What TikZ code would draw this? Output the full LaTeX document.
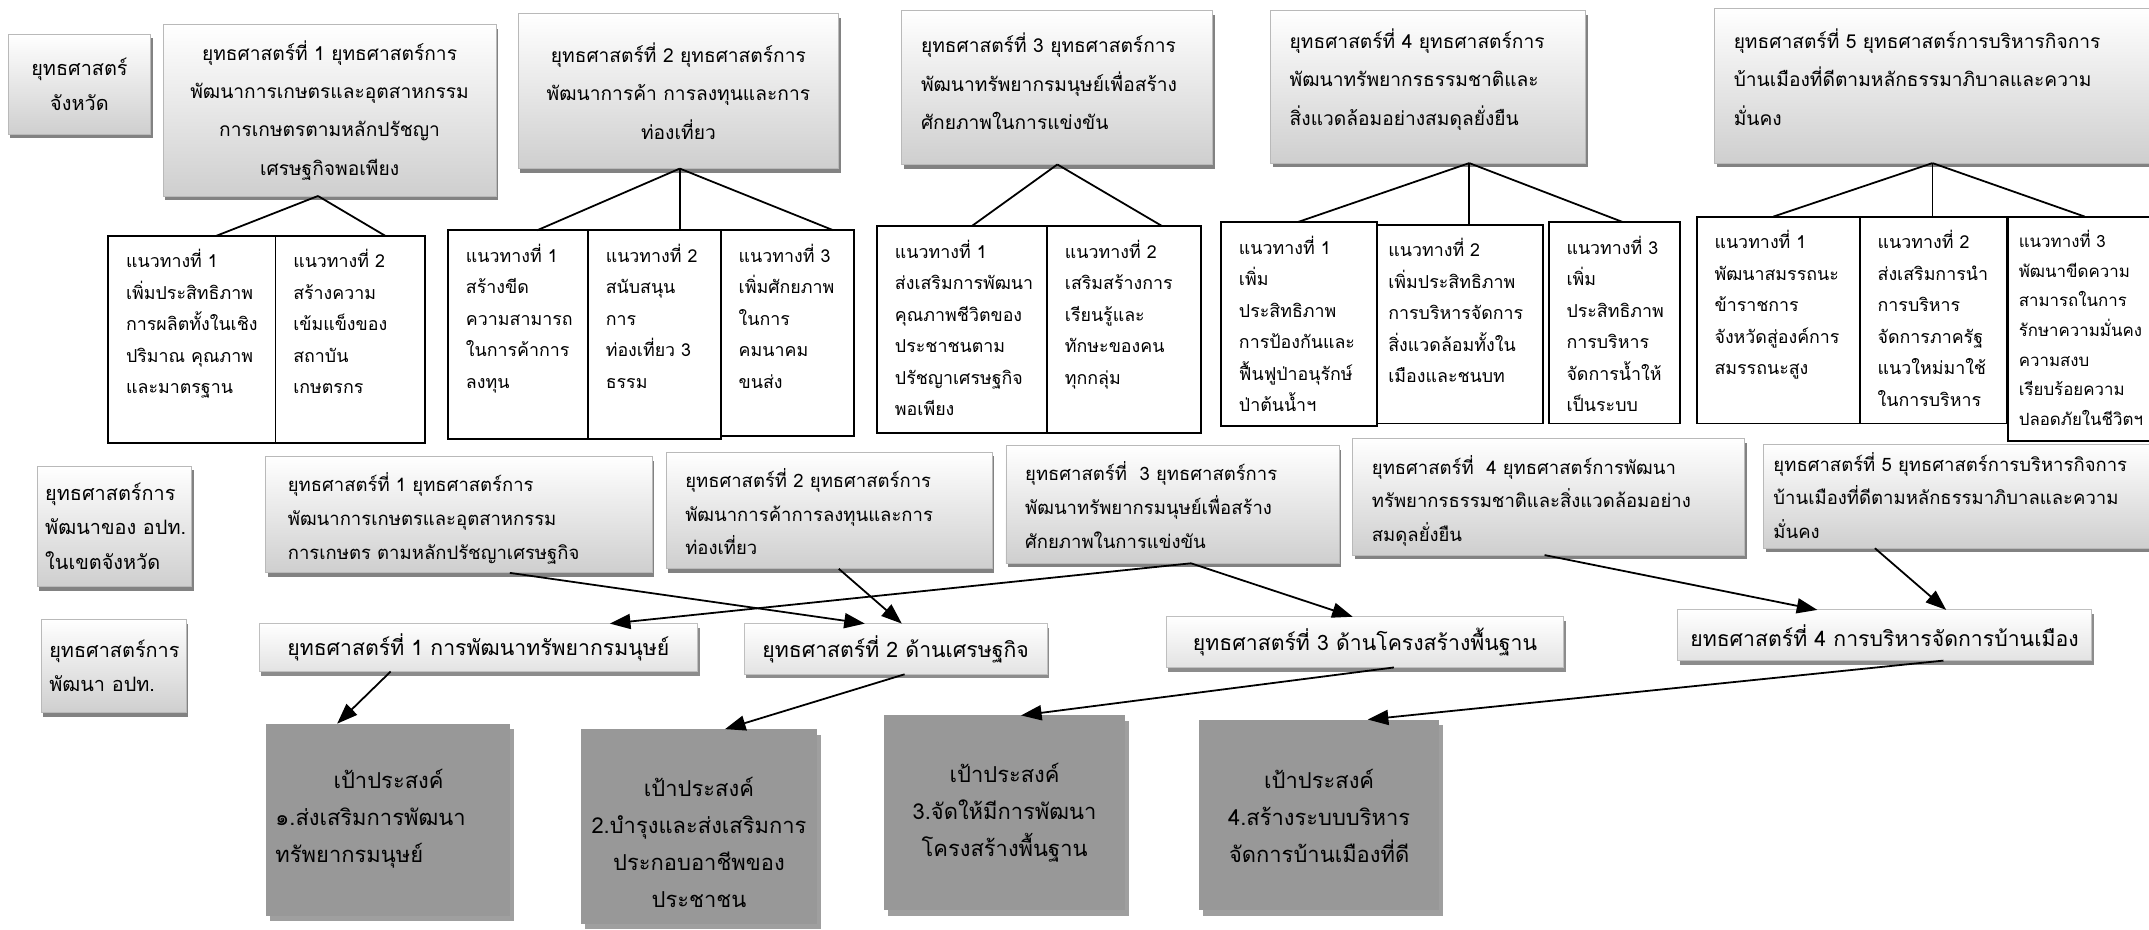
\documentclass[tikz,border=0pt]{standalone}
\usepackage{fontspec}
\setmainfont[Script=Thai]{Loma}
\usetikzlibrary{arrows.meta,shadows}
\newcommand\mkbox[6]{\pgfmathsetmacro\mkbw{#5-#3}\pgfmathsetmacro\mkbh{#6-#4}%
  \node[#2,anchor=north west,inner sep=0pt,outer sep=0pt,minimum width=\mkbw pt,minimum height=\mkbh pt] (#1) at (#3,#4) {};}
\definecolor{goalgray}{RGB}{152,152,152}
\begin{document}
\begin{tikzpicture}[x=1pt,y=-1pt,
  every node/.style={inner sep=0pt,outer sep=0pt},
  topbox/.style={draw=gray!55,line width=0.7pt,top color=white,bottom color=gray!38,drop shadow={shadow xshift=1.5pt,shadow yshift=-3pt,fill=black!65,opacity=0.75}},
  subbox/.style={draw=black,line width=1.4pt,fill=white},
  midbox/.style={draw=gray!50,line width=0.7pt,top color=white,bottom color=gray!22,drop shadow={shadow xshift=1.5pt,shadow yshift=-3pt,fill=black!60,opacity=0.75}},
  goalbox/.style={fill=goalgray,drop shadow={shadow xshift=3pt,shadow yshift=-4pt,fill=black!75}},
  fanline/.style={line width=1.3pt},
  arrowline/.style={line width=1.3pt,-{Triangle[length=15pt,width=11pt]}},
  ftop/.style={font=\fontsize{14}{28}\selectfont},
  fsub/.style={font=\fontsize{13}{23}\selectfont},
  fsubs/.style={font=\fontsize{12.3}{21.6}\selectfont},
  fmid/.style={font=\fontsize{13.5}{24.5}\selectfont},
  fr4/.style={font=\fontsize{15.5}{20}\selectfont},
  fgoal/.style={font=\fontsize{16}{27}\selectfont},
  flab/.style={font=\fontsize{14.5}{25}\selectfont},
]
\useasboundingbox (0,0) rectangle (1568,678);
\fill[white] (0,0) rectangle (1568,678);

% ---------- row 3 (drawn first, lies under row 2) ----------
\mkbox{l2}{topbox}{27}{340}{140}{428}
\mkbox{r3a}{topbox}{194}{333}{476}{418}
\mkbox{r3b}{topbox}{486}{330}{724}{415}
\mkbox{r3c}{topbox}{734}{325}{977}{411}
\mkbox{r3d}{topbox}{987}{320}{1273}{405}
\mkbox{r3e}{topbox}{1287}{324}{1575}{400}

% ---------- row 1 ----------
\mkbox{l1}{topbox}{6}{25}{110}{98}
\mkbox{s1}{topbox}{119}{18}{362}{143}
\mkbox{s2}{topbox}{378}{10}{612}{123}
\mkbox{s3}{topbox}{658}{8}{885}{120}
\mkbox{s4}{topbox}{927}{8}{1157}{119}
\mkbox{s5}{topbox}{1251}{6}{1575}{119}

\node[flab,align=center] (l1t) at (l1) {ยุทธศาสตร์\\จังหวัด};
\node[ftop,align=center] (s1t) at (s1) {ยุทธศาสตร์ที่ 1 ยุทธศาสตร์การ\\พัฒนาการเกษตรและอุตสาหกรรม\\การเกษตรตามหลักปรัชญา\\เศรษฐกิจพอเพียง};
\node[ftop,align=center] (s2t) at (s2) {ยุทธศาสตร์ที่ 2 ยุทธศาสตร์การ\\พัฒนาการค้า การลงทุนและการ\\ท่องเที่ยว};
\node[ftop,align=left,anchor=north west] (s3t) at ([xshift=14pt,yshift=-16pt]s3.north west) {ยุทธศาสตร์ที่ 3 ยุทธศาสตร์การ\\พัฒนาทรัพยากรมนุษย์เพื่อสร้าง\\ศักยภาพในการแข่งขัน};
\node[ftop,align=left,anchor=north west] (s4t) at ([xshift=14pt,yshift=-13pt]s4.north west) {ยุทธศาสตร์ที่ 4 ยุทธศาสตร์การ\\พัฒนาทรัพยากรธรรมชาติและ\\สิ่งแวดล้อมอย่างสมดุลยั่งยืน};
\node[ftop,align=left,anchor=north west] (s5t) at ([xshift=14pt,yshift=-15pt]s5.north west) {ยุทธศาสตร์ที่ 5 ยุทธศาสตร์การบริหารกิจการ\\บ้านเมืองที่ดีตามหลักธรรมาภิบาลและความ\\มั่นคง};

% ---------- row 2 ----------
\mkbox{s1a}{subbox}{79}{172}{201}{323}
\mkbox{s1b}{subbox}{201}{172}{310}{323}
\mkbox{s2a}{subbox}{327}{168}{429}{320}
\mkbox{s2b}{subbox}{429}{168}{526}{320}
\mkbox{s2c}{subbox}{526}{168}{623}{318}
\mkbox{s3a}{subbox}{640}{165}{764}{316}
\mkbox{s3b}{subbox}{764}{165}{876}{316}
\mkbox{s4a}{subbox}{891}{162}{1005}{311}
\mkbox{s4b}{subbox}{1005}{164}{1126}{309}
\mkbox{s4c}{subbox}{1130}{162}{1226}{309}
\mkbox{s5a}{subbox}{1238}{158}{1357}{309}
\mkbox{s5b}{subbox}{1357}{158}{1464}{309}
\mkbox{s5c}{subbox}{1465}{158}{1590}{322}

\node[fsub,align=left,anchor=north west] (s1at) at ([xshift=13pt,yshift=-10pt]s1a.north west) {แนวทางที่ 1\\เพิ่มประสิทธิภาพ\\การผลิตทั้งในเชิง\\ปริมาณ คุณภาพ\\และมาตรฐาน};
\node[fsub,align=left,anchor=north west] (s1bt) at ([xshift=13pt,yshift=-10pt]s1b.north west) {แนวทางที่ 2\\สร้างความ\\เข้มแข็งของ\\สถาบัน\\เกษตรกร};
\node[fsub,align=left,anchor=north west] (s2at) at ([xshift=13pt,yshift=-10pt]s2a.north west) {แนวทางที่ 1\\สร้างขีด\\ความสามารถ\\ในการค้าการ\\ลงทุน};
\node[fsub,align=left,anchor=north west] (s2bt) at ([xshift=13pt,yshift=-10pt]s2b.north west) {แนวทางที่ 2\\สนับสนุน\\การ\\ท่องเที่ยว 3\\ธรรม};
\node[fsub,align=left,anchor=north west] (s2ct) at ([xshift=13pt,yshift=-10pt]s2c.north west) {แนวทางที่ 3\\เพิ่มศักยภาพ\\ในการ\\คมนาคม\\ขนส่ง};
\node[fsub,align=left,anchor=north west] (s3at) at ([xshift=13pt,yshift=-10pt]s3a.north west) {แนวทางที่ 1\\ส่งเสริมการพัฒนา\\คุณภาพชีวิตของ\\ประชาชนตาม\\ปรัชญาเศรษฐกิจ\\พอเพียง};
\node[fsub,align=left,anchor=north west] (s3bt) at ([xshift=13pt,yshift=-10pt]s3b.north west) {แนวทางที่ 2\\เสริมสร้างการ\\เรียนรู้และ\\ทักษะของคน\\ทุกกลุ่ม};
\node[fsub,align=left,anchor=north west] (s4at) at ([xshift=13pt,yshift=-10pt]s4a.north west) {แนวทางที่ 1\\เพิ่ม\\ประสิทธิภาพ\\การป้องกันและ\\ฟื้นฟูป่าอนุรักษ์\\ป่าต้นน้ำฯ};
\node[fsub,align=left,anchor=north west] (s4bt) at ([xshift=8pt,yshift=-10pt]s4b.north west) {แนวทางที่ 2\\เพิ่มประสิทธิภาพ\\การบริหารจัดการ\\สิ่งแวดล้อมทั้งใน\\เมืองและชนบท};
\node[fsub,align=left,anchor=north west] (s4ct) at ([xshift=13pt,yshift=-10pt]s4c.north west) {แนวทางที่ 3\\เพิ่ม\\ประสิทธิภาพ\\การบริหาร\\จัดการน้ำให้\\เป็นระบบ};
\node[fsub,align=left,anchor=north west] (s5at) at ([xshift=13pt,yshift=-10pt]s5a.north west) {แนวทางที่ 1\\พัฒนาสมรรถนะ\\ข้าราชการ\\จังหวัดสู่องค์การ\\สมรรถนะสูง};
\node[fsub,align=left,anchor=north west] (s5bt) at ([xshift=13pt,yshift=-10pt]s5b.north west) {แนวทางที่ 2\\ส่งเสริมการนำ\\การบริหาร\\จัดการภาครัฐ\\แนวใหม่มาใช้\\ในการบริหาร};
\node[fsubs,align=left,anchor=north west] (s5ct) at ([xshift=8pt,yshift=-10pt]s5c.north west) {แนวทางที่ 3\\พัฒนาขีดความ\\สามารถในการ\\รักษาความมั่นคง\\ความสงบ\\เรียบร้อยความ\\ปลอดภัยในชีวิตฯ};

% fans
\draw[fanline] ([xshift=-8.5pt]s1.south) -- ([xshift=18pt]s1a.north);
\draw[fanline] ([xshift=-8.5pt]s1.south) -- ([xshift=25.5pt]s1b.north);
\draw[fanline] ([xshift=1pt]s2.south) -- ([xshift=14pt]s2a.north);
\draw[fanline] ([xshift=1pt]s2.south) -- ([xshift=18.5pt]s2b.north);
\draw[fanline] ([xshift=1pt]s2.south) -- ([xshift=33.5pt]s2c.north);
\draw[fanline] (s3.south) -- ([xshift=7pt]s3a.north);
\draw[fanline] (s3.south) -- ([xshift=28pt]s3b.north);
\draw[fanline] ([xshift=30pt]s4.south) -- ([xshift=-1pt]s4a.north);
\draw[fanline] ([xshift=30pt]s4.south) -- ([xshift=6.5pt]s4b.north);
\draw[fanline] ([xshift=30pt]s4.south) -- ([xshift=6pt]s4c.north);
\draw[fanline] ([xshift=-3pt]s5.south) -- ([xshift=-3.5pt]s5a.north);
\draw[fanline] ([xshift=-3pt]s5.south) -- ([xshift=-0.5pt]s5b.north);
\draw[fanline] ([xshift=-3pt]s5.south) -- ([xshift=-6.5pt]s5c.north);

% ---------- row 3 texts ----------
\node[flab,align=left,anchor=west] (l2t) at ([xshift=6pt]l2.west) {ยุทธศาสตร์การ\\พัฒนาของ อปท.\\ในเขตจังหวัด};
\node[fmid,align=left,anchor=north west] (r3at) at ([xshift=16pt,yshift=-12pt]r3a.north west) {ยุทธศาสตร์ที่ 1 ยุทธศาสตร์การ\\พัฒนาการเกษตรและอุตสาหกรรม\\การเกษตร ตามหลักปรัชญาเศรษฐกิจ};
\node[fmid,align=left,anchor=north west] (r3bt) at ([xshift=14pt,yshift=-12pt]r3b.north west) {ยุทธศาสตร์ที่ 2 ยุทธศาสตร์การ\\พัฒนาการค้าการลงทุนและการ\\ท่องเที่ยว};
\node[fmid,align=left,anchor=north west] (r3ct) at ([xshift=14pt,yshift=-12pt]r3c.north west) {ยุทธศาสตร์ที่\ \ 3 ยุทธศาสตร์การ\\พัฒนาทรัพยากรมนุษย์เพื่อสร้าง\\ศักยภาพในการแข่งขัน};
\node[fmid,align=left,anchor=north west] (r3dt) at ([xshift=14pt,yshift=-12pt]r3d.north west) {ยุทธศาสตร์ที่\ \ 4 ยุทธศาสตร์การพัฒนา\\ทรัพยากรธรรมชาติและสิ่งแวดล้อมอย่าง\\สมดุลยั่งยืน};
\node[fmid,align=left,anchor=north west] (r3et) at ([xshift=7pt,yshift=-6pt]r3e.north west) {ยุทธศาสตร์ที่ 5 ยุทธศาสตร์การบริหารกิจการ\\บ้านเมืองที่ดีตามหลักธรรมาภิบาลและความ\\มั่นคง};

% ---------- row 4 ----------
\mkbox{l3}{topbox}{30}{452}{136}{520}
\mkbox{r4a}{midbox}{189}{455}{509}{490}
\mkbox{r4b}{midbox}{543}{455}{764}{492}
\mkbox{r4c}{midbox}{851}{450}{1141}{487}
\mkbox{r4d}{midbox}{1224}{445}{1526}{482}

\node[flab,align=left,anchor=west] (l3t) at ([xshift=6pt]l3.west) {ยุทธศาสตร์การ\\พัฒนา อปท.};
\node[fr4] (r4at) at (r4a) {ยุทธศาสตร์ที่ 1 การพัฒนาทรัพยากรมนุษย์};
\node[fr4] (r4bt) at (r4b) {ยุทธศาสตร์ที่ 2 ด้านเศรษฐกิจ};
\node[fr4] (r4ct) at (r4c) {ยุทธศาสตร์ที่ 3 ด้านโครงสร้างพื้นฐาน};
\node[fr4] (r4dt) at (r4d) {ยทธศาสตร์ที่ 4 การบริหารจัดการบ้านเมือง};

% arrows row 3 -> row 4
\draw[arrowline] ([xshift=37pt]r3a.south) -- ([xshift=-22.5pt]r4b.north);
\draw[arrowline] ([xshift=7pt]r3b.south) -- ([xshift=4.5pt]r4b.north);
\draw[arrowline] ([xshift=13.5pt]r3c.south) -- ([xshift=96pt]r4a.north);
\draw[arrowline] ([xshift=13.5pt]r3c.south) -- ([xshift=-9pt]r4c.north);
\draw[arrowline] ([xshift=-3pt]r3d.south) -- ([xshift=-49pt]r4d.north);
\draw[arrowline] ([xshift=-63pt]r3e.south) -- ([xshift=45pt]r4d.north);

% ---------- row 5 ----------
\mkbox{g1}{goalbox}{194}{528}{372}{668}
\mkbox{g2}{goalbox}{424}{532}{596}{674}
\mkbox{g3}{goalbox}{645}{522}{821}{664}
\mkbox{g4}{goalbox}{875}{525}{1050}{664}

\node[fgoal,align=left,text width=165pt,anchor=north west] (g1t) at ([xshift=7pt,yshift=-33pt]g1.north west) {\makebox[165pt]{เป้าประสงค์}\\๑.ส่งเสริมการพัฒนา\\ทรัพยากรมนุษย์};
\node[fgoal,align=center,anchor=north] (g2t) at ([yshift=-35pt]g2.north) {เป้าประสงค์\\2.บำรุงและส่งเสริมการ\\ประกอบอาชีพของ\\ประชาชน};
\node[fgoal,align=center,anchor=north] (g3t) at ([yshift=-35pt]g3.north) {เป้าประสงค์\\3.จัดให้มีการพัฒนา\\โครงสร้างพื้นฐาน};
\node[fgoal,align=center,anchor=north] (g4t) at ([yshift=-36pt]g4.north) {เป้าประสงค์\\4.สร้างระบบบริหาร\\จัดการบ้านเมืองที่ดี};

% arrows row 4 -> row 5
\draw[arrowline] ([xshift=-64pt]r4a.south) -- ([xshift=-37pt]g1.north);
\draw[arrowline] ([xshift=6.5pt]r4b.south) -- ([xshift=19pt]g2.north);
\draw[arrowline] ([xshift=21pt]r4c.south) -- ([xshift=12pt]g3.north);
\draw[arrowline] ([xshift=43pt]r4d.south) -- ([xshift=35.5pt]g4.north);
\end{tikzpicture}
\end{document}
